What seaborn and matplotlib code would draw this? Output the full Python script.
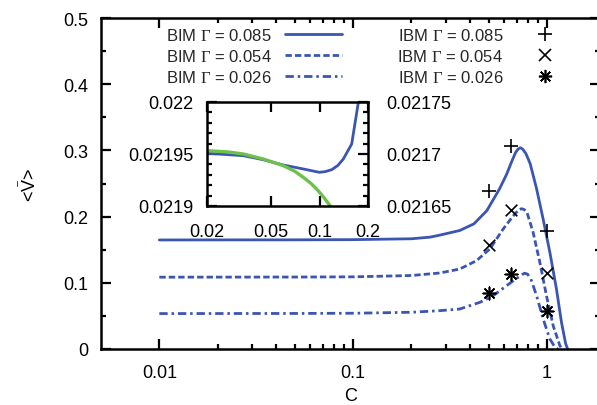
import numpy as np
import pandas as pd
import matplotlib
matplotlib.use("Agg")
import matplotlib.pyplot as plt
import seaborn as sns
from matplotlib.lines import Line2D
from matplotlib.ticker import FixedLocator, NullLocator

# ---------------- data ----------------
c_085 = [0.01, 0.02, 0.05, 0.1, 0.2, 0.25, 0.28, 0.355, 0.42, 0.49, 0.57, 0.62, 0.66, 0.69, 0.71, 0.73,
         0.75, 0.78, 0.82, 0.885, 0.957, 1.036, 1.12, 1.19, 1.25, 1.28]
v_085 = [0.1647, 0.1648, 0.1649, 0.1652, 0.1665, 0.169, 0.172, 0.179, 0.189, 0.209, 0.242, 0.264, 0.284,
         0.297, 0.302, 0.304, 0.302, 0.295, 0.280, 0.242, 0.196, 0.146, 0.091, 0.040, 0.008, 0.0]

c_054 = [0.01, 0.05, 0.1, 0.2, 0.28, 0.355, 0.433, 0.508, 0.595, 0.65, 0.683, 0.715, 0.74, 0.765, 0.791,
         0.849, 0.92, 0.995, 1.078, 1.167, 1.2]
v_054 = [0.1085, 0.1087, 0.109, 0.111, 0.1148, 0.1208, 0.1334, 0.1511, 0.1813, 0.1960, 0.2039, 0.2100,
         0.2120, 0.2105, 0.2055, 0.1763, 0.1309, 0.0805, 0.0352, 0.005, 0.0]

c_026 = [0.01, 0.05, 0.1, 0.2, 0.28, 0.355, 0.451, 0.528, 0.619, 0.711, 0.745, 0.769, 0.795, 0.824,
         0.885, 0.957, 1.036, 1.099, 1.14]
v_026 = [0.0535, 0.0537, 0.054, 0.0555, 0.0579, 0.0604, 0.0705, 0.0805, 0.0956, 0.1083, 0.1125, 0.1145,
         0.1130, 0.1070, 0.0805, 0.0453, 0.0151, 0.003, 0.0]

ibm_c = [0.5, 0.65, 1.0]
ibm_085 = [0.239, 0.307, 0.179]
ibm_054 = [0.157, 0.210, 0.115]
ibm_026 = [0.084, 0.113, 0.058]

inset_blue_c = [0.02, 0.03362, 0.04474, 0.05956, 0.07927, 0.0997, 0.108, 0.119, 0.13, 0.1405, 0.1584,
                0.1742, 0.19]
inset_blue_v = [0.0219507, 0.0219484, 0.0219445, 0.0219394, 0.0219356, 0.0219324, 0.0219330, 0.0219349,
                0.0219390, 0.0219452, 0.0219596, 0.0219997, 0.022040]
inset_green_c = [0.02, 0.027, 0.03362, 0.04474, 0.05956, 0.07, 0.07927, 0.088, 0.0960, 0.106, 0.1162,
                 0.125]
inset_green_v = [0.0219532, 0.0219520, 0.0219500, 0.0219452, 0.0219388, 0.0219335, 0.0219276, 0.0219220,
                 0.0219163, 0.0219085, 0.0219003, 0.021890]

legend_bim = ["BIM $\\Gamma$ = 0.085", "BIM $\\Gamma$ = 0.054", "BIM $\\Gamma$ = 0.026"]
legend_ibm = ["IBM $\\Gamma$ = 0.085", "IBM $\\Gamma$ = 0.054", "IBM $\\Gamma$ = 0.026"]

main_xticks = [0.01, 0.1, 1]
main_xticklabels = ["0.01", "0.1", "1"]
main_yticks = [0, 0.1, 0.2, 0.3, 0.4, 0.5]
main_yticklabels = ["0", "0.1", "0.2", "0.3", "0.4", "0.5"]
inset_xticks = [0.02, 0.05, 0.1, 0.2]
inset_xticklabels = ["0.02", "0.05", "0.1", "0.2"]
inset_yticks = [0.0219, 0.02195, 0.022]
inset_yticklabels = ["0.0219", "0.02195", "0.022"]
inset_y2ticks = [0.02165, 0.0217, 0.02175]
inset_y2ticklabels = ["0.02165", "0.0217", "0.02175"]

# ---------------- style ----------------
sns.set_theme(style="ticks")
plt.rcParams["font.family"] = ["Liberation Sans", "DejaVu Sans"]
plt.rcParams["mathtext.fontset"] = "custom"
plt.rcParams["mathtext.rm"] = "Liberation Serif"
plt.rcParams["mathtext.sf"] = "Liberation Sans"
plt.rcParams["axes.linewidth"] = 1.8

BLUE = "#3b55b3"
GREEN = "#6cc14b"
LW = 2.0
ls_solid = "-"
ls_dash = (0, (2.3, 1.1))
ls_dashdot = (0, (3.0, 1.4, 0.9, 1.4))

W, H = 597, 406
fig = plt.figure(figsize=(W / 100, H / 100), dpi=100)
fig.patch.set_facecolor("white")

L, R, T, B = 101, 600, 19, 350
ax = fig.add_axes([L / W, 1 - B / H, (R - L) / W, (B - T) / H])
ax.set_facecolor("white")

sns.lineplot(x=c_085, y=v_085, ax=ax, color=BLUE, lw=LW, linestyle=ls_solid, sort=False)
sns.lineplot(x=c_054, y=v_054, ax=ax, color=BLUE, lw=LW, linestyle=ls_dash, sort=False)
sns.lineplot(x=c_026, y=v_026, ax=ax, color=BLUE, lw=LW, linestyle=ls_dashdot, sort=False)

sns.scatterplot(x=ibm_c, y=ibm_085, ax=ax, marker="+", s=90, color="black", linewidth=1.2, zorder=5)
sns.scatterplot(x=ibm_c, y=ibm_054, ax=ax, marker="x", s=70, color="black", linewidth=1.2, zorder=5)
sns.scatterplot(x=ibm_c, y=ibm_026, ax=ax, marker=(8, 2, 0), s=80, color="black", linewidth=1.2, zorder=5)

ax.set_xscale("log")
ax.set_xlim(0.005, 1.88)
ax.set_ylim(0, 0.5)
ax.xaxis.set_major_locator(FixedLocator(main_xticks))
ax.set_xticklabels(main_xticklabels)
minor_x = [m * d for d in (0.01, 0.1) for m in range(2, 10)]
ax.xaxis.set_minor_locator(FixedLocator(minor_x))
ax.set_yticks(main_yticks)
ax.set_yticklabels(main_yticklabels)
ax.yaxis.set_minor_locator(FixedLocator([0.05, 0.15, 0.25, 0.35, 0.45]))
ax.tick_params(which="both", direction="in", top=True, right=True, width=1.6, colors="black",
               labelsize=13, labelcolor="black")
ax.tick_params(which="major", length=7)
ax.tick_params(which="minor", length=3.5)
ax.tick_params(axis="y", pad=9)
ax.tick_params(axis="x", pad=11)
for s in ax.spines.values():
    s.set_color("black")
    s.set_linewidth(1.8)

ax.set_xlabel("C", fontsize=13, labelpad=4, color="black")
ax.set_ylabel(r"<$\bar{\mathsf{V}}$>", fontsize=13, labelpad=17, color="black")

# legends
bim_handles = [Line2D([], [], color=BLUE, lw=LW, linestyle=ls) for ls in (ls_solid, ls_dash, ls_dashdot)]
leg1 = ax.legend(bim_handles, legend_bim, loc="upper right", bbox_to_anchor=(342 / W, 1 - 28 / H),
                 bbox_transform=fig.transFigure, frameon=False, markerfirst=False, fontsize=12,
                 handlelength=3.4, handletextpad=0.8, labelspacing=0.3, borderpad=0, borderaxespad=0)
ax.add_artist(leg1)
ibm_handles = [Line2D([], [], color="black", lw=0, marker=m, markersize=ms, markeredgewidth=1.2)
               for m, ms in (("+", 10), ("x", 8.5), ((8, 2, 0), 9.5))]
leg2 = ax.legend(ibm_handles, legend_ibm, loc="upper right", bbox_to_anchor=(555 / W, 1 - 28 / H),
                 bbox_transform=fig.transFigure, frameon=False, markerfirst=False, fontsize=12,
                 handlelength=1.2, handletextpad=1.9, labelspacing=0.3, borderpad=0, borderaxespad=0)

# inset
iL, iR, iT, iB = 207, 368, 103, 207
axin = fig.add_axes([iL / W, 1 - iB / H, (iR - iL) / W, (iB - iT) / H])
axin.set_facecolor("white")
sns.lineplot(x=inset_blue_c, y=inset_blue_v, ax=axin, color=BLUE, lw=2.0, sort=False)
sns.lineplot(x=inset_green_c, y=inset_green_v, ax=axin, color=GREEN, lw=2.4, sort=False)
axin.set_xscale("log")
axin.set_xlim(0.02, 0.2)
axin.set_ylim(0.0219, 0.022)
axin.xaxis.set_major_locator(FixedLocator(inset_xticks))
axin.xaxis.set_minor_locator(NullLocator())
axin.set_xticklabels(inset_xticklabels)
axin.yaxis.set_major_locator(FixedLocator(inset_yticks))
axin.set_yticklabels(inset_yticklabels)
axin.yaxis.set_minor_locator(FixedLocator([0.0219 + k * 0.00001 for k in range(1, 10) if k != 5]))
axin.set_xlabel("")
axin.set_ylabel("")
for s in axin.spines.values():
    s.set_color("black")
    s.set_linewidth(1.8)

axt = axin.twinx()
axt.set_ylim(0.02165, 0.02175)
axt.yaxis.set_major_locator(FixedLocator(inset_y2ticks))
axt.set_yticklabels(inset_y2ticklabels)
axt.yaxis.set_minor_locator(NullLocator())
axt.tick_params(axis="y", length=0, pad=13, labelsize=13, labelcolor="black")
for s in axt.spines.values():
    s.set_visible(False)

axin.tick_params(which="both", direction="in", top=True, right=True, left=True, bottom=True,
                 width=1.6, colors="black", labelsize=13, labelcolor="black")
axin.tick_params(axis="y", labelright=False)
axin.tick_params(which="major", length=7)
axin.tick_params(which="minor", length=3.5)
axin.tick_params(axis="y", pad=10)
axin.tick_params(axis="x", pad=12)

fig.savefig("out.png", dpi=100, facecolor="white")
